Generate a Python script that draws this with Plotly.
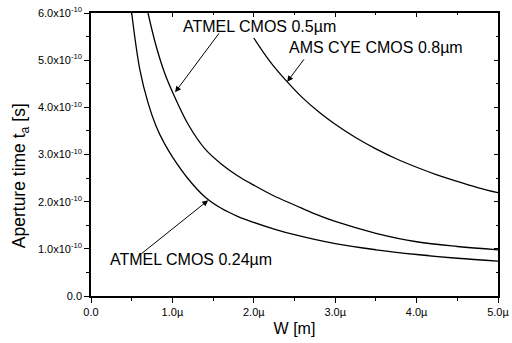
import plotly.graph_objects as go

# Data: W in micrometres, aperture time in units of 1e-10 s
w_024 = [0.5, 0.6, 0.7, 0.8, 0.9, 1.0, 1.2, 1.4, 1.6, 1.8, 2.0, 2.25, 2.5, 3.0, 3.5, 4.0, 4.5, 5.0]
t_024 = [6.0, 4.8, 4.1, 3.6, 3.24, 2.95, 2.47, 2.1, 1.86, 1.69, 1.56, 1.42, 1.3, 1.11, 0.98, 0.88, 0.8, 0.74]

w_05 = [0.7, 0.8, 0.9, 1.0, 1.2, 1.4, 1.6, 1.8, 2.0, 2.25, 2.5, 2.75, 3.0, 3.5, 4.0, 4.5, 5.0]
t_05 = [6.0, 5.3, 4.75, 4.33, 3.62, 3.12, 2.8, 2.55, 2.35, 2.12, 1.93, 1.74, 1.58, 1.33, 1.15, 1.05, 0.98]

w_08 = [2.0, 2.2, 2.4, 2.6, 2.8, 3.0, 3.25, 3.5, 3.75, 4.0, 4.25, 4.5, 4.75, 5.0]
t_08 = [5.47, 4.97, 4.56, 4.2, 3.9, 3.64, 3.36, 3.12, 2.91, 2.73, 2.57, 2.43, 2.3, 2.19]

x_tickvals = [0, 1, 2, 3, 4, 5]
x_ticktext = ["0.0", "1.0µ", "2.0µ", "3.0µ", "4.0µ", "5.0µ"]
y_tickvals = [0, 1, 2, 3, 4, 5, 6]
y_ticktext = ["0.0"] + [f"{v}.0x10<sup>-10</sup>" for v in range(1, 7)]

labels = ["ATMEL CMOS 0.24µm", "ATMEL CMOS 0.5µm", "AMS CYE CMOS 0.8µm"]
x_title = "W [m]"
y_title = "Aperture time t<sub>a</sub> [s]"

FONT = "Liberation Sans, Arial, sans-serif"
line = dict(color="black", width=1.3)

fig = go.Figure()
fig.add_trace(go.Scatter(x=w_024, y=t_024, mode="lines", line=line, line_shape="spline", name=labels[0]))
fig.add_trace(go.Scatter(x=w_05, y=t_05, mode="lines", line=line, line_shape="spline", name=labels[1]))
fig.add_trace(go.Scatter(x=w_08, y=t_08, mode="lines", line=line, line_shape="spline", name=labels[2]))
# invisible trace for mirrored axes
fig.add_trace(go.Scatter(x=[0], y=[0], xaxis="x2", yaxis="y2", mode="markers",
                         marker=dict(opacity=0), showlegend=False, hoverinfo="skip"))

axis_common = dict(showgrid=False, zeroline=False, linecolor="black", linewidth=1.5, automargin=False)

fig.update_layout(
    width=512, height=343,
    margin=dict(l=91, r=14, t=13, b=47),
    paper_bgcolor="white", plot_bgcolor="white",
    showlegend=False,
    font=dict(family=FONT, color="black"),
    xaxis=dict(range=[0, 5], tickvals=x_tickvals, ticktext=x_ticktext,
               ticks="outside", ticklen=5, tickwidth=1.3, tickcolor="black",
               minor=dict(ticks="outside", dtick=0.5, tick0=0, ticklen=3, tickwidth=1.3, tickcolor="black"),
               tickfont=dict(size=11),
               title=dict(text=x_title, font=dict(size=16), standoff=6),
               **axis_common),
    yaxis=dict(range=[0, 6], tickvals=y_tickvals, ticktext=y_ticktext,
               ticks="outside", ticklen=5, tickwidth=1.3, tickcolor="black",
               minor=dict(ticks="outside", dtick=0.5, tick0=0, ticklen=3, tickwidth=1.3, tickcolor="black"),
               tickfont=dict(size=11), ticklabeloverflow="allow",
               **axis_common),
    xaxis2=dict(range=[0, 5], overlaying="x", side="top", anchor="y2",
                tickvals=x_tickvals, showticklabels=False,
                ticks="inside", ticklen=4, tickwidth=1.3, tickcolor="black",
                minor=dict(ticks="inside", dtick=0.5, tick0=0, ticklen=2, tickwidth=1.3, tickcolor="black"),
                **axis_common),
    yaxis2=dict(range=[0, 6], overlaying="y", side="right", anchor="x2",
                tickvals=y_tickvals, showticklabels=False,
                ticks="inside", ticklen=4, tickwidth=1.3, tickcolor="black",
                minor=dict(ticks="inside", dtick=0.5, tick0=0, ticklen=2, tickwidth=1.3, tickcolor="black"),
                **axis_common),
)

# y-axis title (placed lower than centre, as in the reference)
fig.add_annotation(x=-0.174, y=0.424, xref="paper", yref="paper", text=y_title, textangle=-90,
                   showarrow=False, xanchor="center", yanchor="middle",
                   font=dict(size=17.5, family=FONT, color="black"))

# labels
label_pos = [(1.23, 0.78), (2.07, 5.72), (3.50, 5.26)]
for txt, (lx, ly) in zip(labels, label_pos):
    fig.add_annotation(x=lx, y=ly, xref="x", yref="y", text=txt, showarrow=False,
                       font=dict(size=16, family=FONT, color="black"))

# arrows (head, tail)
arrows = [((1.44, 2.03), (0.60, 0.87)), ((1.033, 4.32), (1.586, 5.60)), ((2.41, 4.54), (2.63, 5.05))]
for (hx, hy), (tx, ty) in arrows:
    fig.add_annotation(x=hx, y=hy, ax=tx, ay=ty, xref="x", yref="y", axref="x", ayref="y",
                       text="", showarrow=True, arrowhead=2, arrowsize=1.2, arrowwidth=1,
                       arrowcolor="black")

# remove the browser's default page margin so the figure fills the window exactly
fig.write_html("out.html", config={"displayModeBar": False},
               post_script="document.body.style.margin='0';document.body.style.overflow='hidden';")
